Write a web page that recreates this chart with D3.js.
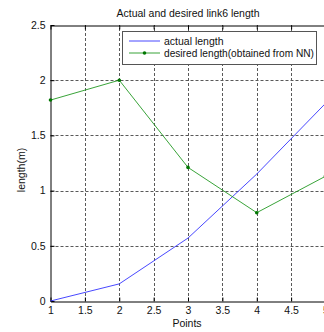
<!DOCTYPE html>
<html><head><meta charset="utf-8">
<script src="https://cdn.jsdelivr.net/npm/d3@7"></script>
<style>body{margin:0;background:#fff;}svg{display:block;font-family:"Liberation Sans",Arial,sans-serif;}</style>
</head><body>
<script>
const points = [1, 2, 3, 4, 5];
const actualLength = [0, 0.155, 0.57, 1.15, 1.79];
const desiredLength = [1.82, 2.0, 1.21, 0.80, 1.13];
const xTicks = [1, 1.5, 2, 2.5, 3, 3.5, 4, 4.5, 5];
const yTicks = [0, 0.5, 1, 1.5, 2, 2.5];
const seriesNames = ["actual length", "desired length(obtained from NN)"];

const W = 324, H = 332;
const FS = 10.5;
const svg = d3.select("body").append("svg").attr("width", W).attr("height", H);
const x = d3.scaleLinear().domain([1, 5]).range([50.5, 325.5]);
const y = d3.scaleLinear().domain([0, 2.5]).range([301, 25]);

// grid
const grid = svg.append("g").attr("stroke", "#222").attr("stroke-width", 1).attr("stroke-dasharray", "3,2").attr("opacity", 0.75);
grid.selectAll(".gx").data(xTicks.filter(d => d > 1 && d < 5)).enter().append("line")
  .attr("x1", d => Math.round(x(d)) + 0.5).attr("x2", d => Math.round(x(d)) + 0.5)
  .attr("y1", y(0)).attr("y2", y(2.5));
grid.selectAll(".gy").data(yTicks.filter(d => d > 0 && d < 2.5)).enter().append("line")
  .attr("x1", x(1)).attr("x2", x(5))
  .attr("y1", d => Math.round(y(d)) + 0.5).attr("y2", d => Math.round(y(d)) + 0.5);

// axes
const axBottom = svg.append("g").attr("transform", `translate(0,${y(0) + 0.5})`)
  .call(d3.axisBottom(x).tickValues(xTicks).tickFormat(d3.format("")).tickSizeInner(-4).tickSizeOuter(0).tickPadding(5));
const axTop = svg.append("g").attr("transform", `translate(0,${y(2.5) + 0.5})`)
  .call(d3.axisTop(x).tickValues(xTicks).tickFormat("").tickSizeInner(-4).tickSizeOuter(0));
const axLeft = svg.append("g").attr("transform", `translate(${x(1)},0)`)
  .call(d3.axisLeft(y).tickValues(yTicks).tickFormat(d3.format("")).tickSizeInner(-4).tickSizeOuter(0).tickPadding(5));
[axBottom, axTop, axLeft].forEach(g => {
  g.selectAll("path,line").attr("stroke", "#000");
  g.selectAll("text").attr("font-size", FS).attr("fill", "#111").attr("font-family", "Liberation Sans, Arial, sans-serif");
});

// lines
const line = d3.line().x((d, i) => x(points[i])).y(d => y(d));
svg.append("path").datum(actualLength).attr("d", line).attr("fill", "none").attr("stroke", "#3333ff").attr("stroke-width", 0.9);
svg.append("path").datum(desiredLength).attr("d", line).attr("fill", "none").attr("stroke", "#229922").attr("stroke-width", 0.9);
svg.selectAll(".dot").data(desiredLength).enter().append("circle")
  .attr("cx", (d, i) => x(points[i])).attr("cy", d => y(d)).attr("r", 1.8).attr("fill", "#007700");

// title and labels
svg.append("text").attr("x", 188).attr("y", 17).attr("text-anchor", "middle").attr("font-size", FS).attr("fill", "#111").text("Actual and desired link6 length");
svg.append("text").attr("x", 187).attr("y", 327).attr("text-anchor", "middle").attr("font-size", FS).attr("fill", "#111").text("Points");
svg.append("text").attr("transform", "translate(25,170) rotate(-90)").attr("text-anchor", "middle").attr("font-size", FS).attr("fill", "#111").text("length(m)");

// legend
const lg = svg.append("g");
lg.append("rect").attr("x", 122.5).attr("y", 31.5).attr("width", 194).attr("height", 33).attr("fill", "#fff").attr("stroke", "#555").attr("stroke-width", 1);
const colors = ["#3333ff", "#229922"];
seriesNames.forEach((name, i) => {
  const yy = 41 + i * 12;
  lg.append("line").attr("x1", 129).attr("x2", 160).attr("y1", yy).attr("y2", yy).attr("stroke", colors[i]).attr("stroke-width", 0.9);
  if (i === 1) lg.append("circle").attr("cx", 144.5).attr("cy", yy).attr("r", 1.8).attr("fill", "#007700");
  const t = lg.append("text").attr("x", 164).attr("y", yy + 4).attr("font-size", FS).attr("fill", "#111").text(name);
  if (i === 1) t.attr("textLength", 150).attr("lengthAdjust", "spacingAndGlyphs");
});
</script>
</body></html>
